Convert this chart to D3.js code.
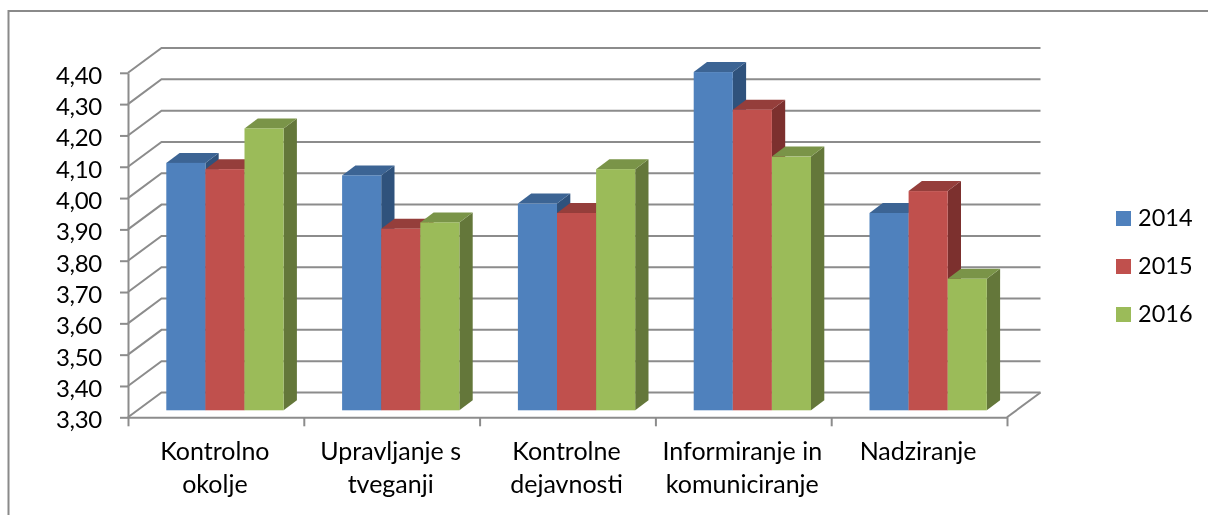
<!DOCTYPE html>
<html><head><meta charset="utf-8">
<script src="https://cdn.jsdelivr.net/npm/d3@7"></script>
<style>
html,body{margin:0;padding:0;background:#fff}
svg{display:block;filter:blur(0.35px)}
text{font-family:Lato,"Noto Sans",sans-serif;fill:#000}
</style></head><body>
<svg id="c" width="1208" height="515"></svg>
<script>
const categories=["Kontrolno okolje","Upravljanje s tveganji","Kontrolne dejavnosti","Informiranje in komuniciranje","Nadziranje"];
const seriesNames=["2014","2015","2016"];
const values2014=[4.09,4.05,3.96,4.38,3.93];
const values2015=[4.07,3.88,3.93,4.26,4.00];
const values2016=[4.20,3.90,4.07,4.11,3.72];
const yTicks=[3.3,3.4,3.5,3.6,3.7,3.8,3.9,4.0,4.1,4.2,4.3,4.4];
const frontColors=["#4F81BD","#C0504D","#9BBB59"];
const topColors=["#3C6494","#953E3B","#7A9448"];
const sideColors=["#2F527C","#7C302E","#64773A"];
const seriesValues=[values2014,values2015,values2016];

const GRID="#8C8C8C";
const svg=d3.select("#c");
const plotL=128,plotR=1007,plotB=417.3,plotT=72.8;
const wallDx=33.5,wallDy=-24.8, barDx=13.3,barDy=-10, floorLift=7;
const y=d3.scaleLinear().domain([3.3,4.4]).range([plotB,plotT]);
const x=d3.scaleBand().domain(categories).range([plotL,plotR]);
const xs=d3.scaleBand().domain(seriesNames).range([38.3,155.6]);
const fmt=v=>v.toFixed(2).replace(".",",");

// frame
svg.append("path").attr("d",`M8.5,515V11H1208`).attr("fill","none").attr("stroke","#8A8A8A").attr("stroke-width",2);

// walls
const walls=svg.append("g").attr("fill","none").attr("stroke",GRID).attr("stroke-width",2);
walls.selectAll(".g").data(yTicks).join("path")
  .attr("d",v=>`M${plotL},${y(v)}L${plotL+wallDx},${y(v)+wallDy}H${plotR+wallDx}`);
walls.append("path").attr("d",`M${plotR},${y(3.3)}L${plotR+wallDx},${y(3.3)+wallDy}`);

// bars
const rows=categories.flatMap((c,i)=>seriesNames.map((s,j)=>({c,s,j,v:seriesValues[j][i]})));
const bars=svg.append("g").selectAll("g").data(rows).join("g");
const bw=xs.bandwidth();
const X0=d=>x(d.c)+xs(d.s), YT=d=>y(d.v)-floorLift, YB=y(3.3)-floorLift;
bars.append("path").attr("fill",d=>sideColors[d.j])
  .attr("d",d=>`M${X0(d)+bw},${YT(d)}l${barDx},${barDy}V${YB+barDy}L${X0(d)+bw},${YB}Z`);
bars.append("path").attr("fill",d=>topColors[d.j])
  .attr("d",d=>`M${X0(d)},${YT(d)}l${barDx},${barDy}h${bw}l${-barDx},${-barDy}Z`);
bars.append("rect").attr("fill",d=>frontColors[d.j])
  .attr("x",X0).attr("y",YT).attr("width",bw).attr("height",d=>YB-YT(d));

// y axis
const yAxis=svg.append("g").attr("transform",`translate(${plotL},0)`)
  .call(d3.axisLeft(y).tickValues(yTicks).tickFormat(fmt).tickSize(8).tickSizeOuter(0).tickPadding(18));
yAxis.selectAll("path,line").attr("stroke",GRID).attr("stroke-width",2);
yAxis.selectAll("text").attr("font-size",24).attr("dy","0.44em").attr("letter-spacing","-0.3").style("font-family","Lato");

// x axis: tick marks on band edges, labels on band centres
const xEdge=d3.scaleLinear().domain([0,categories.length]).range([plotL,plotR]);
const xAxis=svg.append("g").attr("transform",`translate(0,${plotB})`)
  .call(d3.axisBottom(xEdge).ticks(categories.length).tickFormat("").tickSize(9).tickSizeOuter(0));
xAxis.selectAll("path,line").attr("stroke",GRID).attr("stroke-width",2);

const xLabels=svg.append("g").selectAll("text").data(categories).join("text")
  .attr("text-anchor","middle").attr("font-size",25);
xLabels.each(function(c){
  const t=d3.select(this), cx=x(c)+x.bandwidth()/2-1;
  const words=c.split(" "); let lines=[],cur="";
  words.forEach(w=>{
    const tryL=cur?cur+" "+w:w;
    t.text(tryL);
    if(this.getComputedTextLength()>x.bandwidth()-6&&cur){lines.push(cur);cur=w;} else cur=tryL;
  });
  lines.push(cur);
  t.text(null);
  lines.forEach((l,i)=>t.append("tspan").attr("x",cx).attr("y",460+i*33).text(l));
});

// legend
const legY=d3.scalePoint().domain(seriesNames).range([211,307]);
const leg=svg.append("g").selectAll("g").data(seriesNames).join("g")
  .attr("transform",s=>`translate(1116,${legY(s)})`);
leg.append("rect").attr("width",15).attr("height",15).attr("fill",(s,i)=>frontColors[i]);
leg.append("text").attr("x",22).attr("y",15).attr("font-size",23.5).text(s=>s);
</script>
</body></html>
